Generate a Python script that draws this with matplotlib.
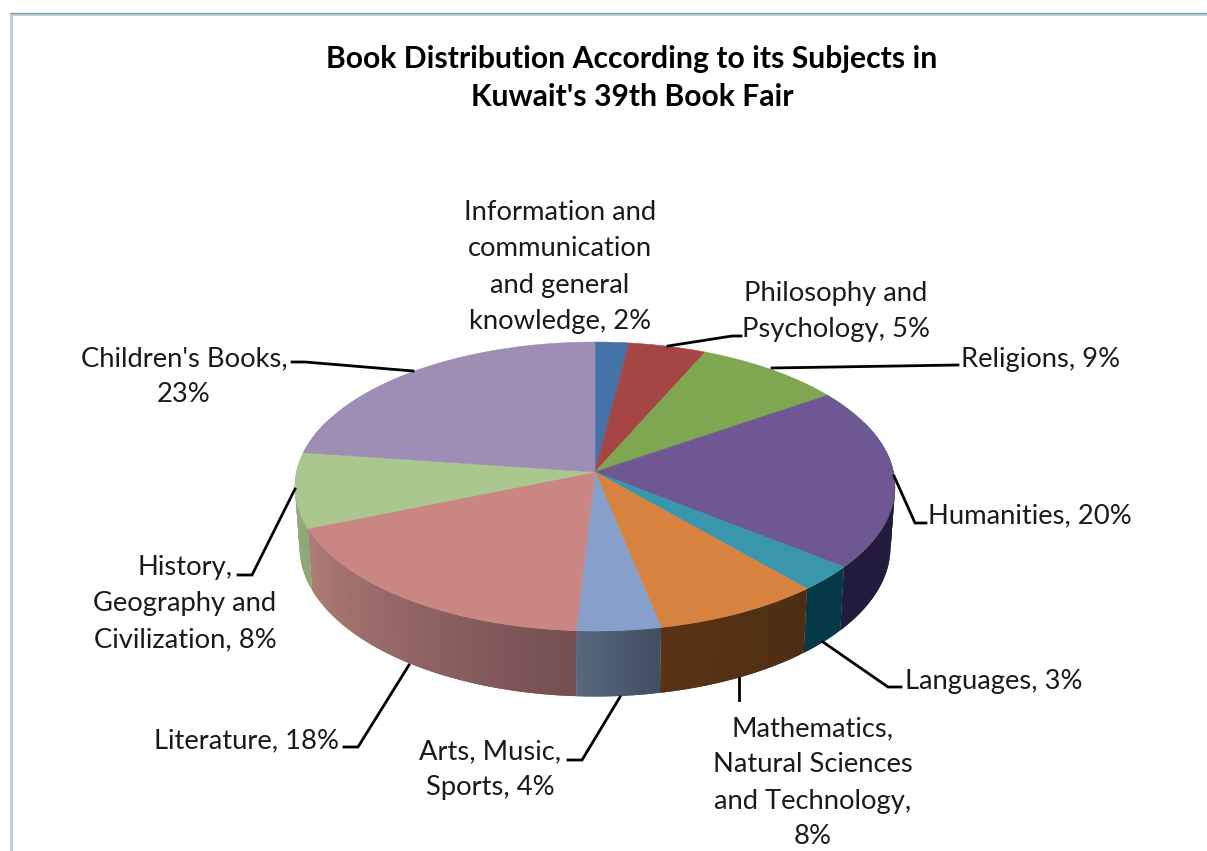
import numpy as np
import matplotlib
matplotlib.use("Agg")
import matplotlib.pyplot as plt

plt.rcParams['font.family'] = ['Lato', 'DejaVu Sans']

TITLE = "Book Distribution According to its Subjects in\nKuwait's 39th Book Fair"
subjects = ["Information and\ncommunication\nand general\nknowledge", "Philosophy and\nPsychology", "Religions",
            "Humanities", "Languages", "Mathematics,\nNatural Sciences\nand Technology",
            "Arts, Music,\nSports", "Literature", "History,\nGeography and\nCivilization", "Children's Books"]
shares = [2.0, 4.6, 8.8, 20.3, 2.9, 8.2, 4.1, 17.9, 8.4, 22.8]
label_seps = [", ", ", ", ", ", ", ", ", ", ",\n", ", ", ", ", ", ", ",\n"]
top_colors = ["#4572A7", "#A64644", "#7FA650", "#6E5792", "#3A96AD", "#D7823E", "#87A0CB", "#C98683", "#AAC78F", "#9E8DB5"]
side_from = ["#2F4F75", "#74302F", "#587338", "#231B3C", "#073A46", "#4D2E14", "#424F63", "#744E50", "#8DA676", "#6E6280"]
side_to = ["#2F4F75", "#74302F", "#587338", "#231B3C", "#073A46", "#5A3314", "#56677F", "#B07C78", "#96AE7E", "#6E6280"]
label_pos = [(560, 267), (836, 312), (1041, 360), (1030, 516), (994, 682),
             (813, 783), (490, 770), (246, 741), (185, 604), (184, 377)]
leaders = [None,
           [(668, 346), (732, 336), (741, 336)],
           [(772, 368), (958, 365)],
           [(894, 476), (915, 523), (926, 523)],
           [(823, 642), (888, 687), (901, 687)],
           [(739, 678), (739, 700)],
           [(620, 697), (582, 760), (568, 760)],
           [(409, 665), (358, 747), (344, 747)],
           [(295, 489), (252, 575), (238, 575)],
           [(413, 371), (305, 362), (292, 362)]]

# projection of the pie's disc
CX, CY, A, B, K = 595, 472, 298.5, 143, 0.1003
CX2, CY2, A2, B2 = 595, 532, 294, 148


def project(t, cx, cy, a, b):
    x, y = np.sin(t), np.cos(t)
    d = 1 + K * y
    return cx + a * x / d, cy - b * y / d


def rgb(h):
    return np.array(matplotlib.colors.to_rgb(h))


fig = plt.figure(figsize=(12.07, 8.51), dpi=100, facecolor="white")
ax = fig.add_axes([0, 0, 1, 1])
ax.set_xlim(0, 1207)
ax.set_ylim(851, 0)
ax.axis("off")

# frame
ax.fill([10, 1207, 1207, 13, 13, 10], [13, 13, 16, 16, 851, 851], color="#BCD1D9", lw=0, zorder=1)
ax.plot([10, 1207], [12.5, 12.5], color="#8E9A9E", lw=1.0, zorder=1.5)

edges = np.cumsum([0] + shares) / sum(shares) * 2 * np.pi

# side wall, drawn strip by strip with overlap so no seams appear
for i in range(len(shares)):
    n = max(int((edges[i + 1] - edges[i]) * 60), 2)
    ts = np.linspace(edges[i], edges[i + 1], n + 1)
    c0, c1 = rgb(side_from[i]), rgb(side_to[i])
    for j in range(n):
        if np.cos(ts[j]) > 0.35 and np.cos(ts[j + 1]) > 0.35:
            continue
        seg = np.linspace(ts[j], ts[min(j + 2, n)], 6)
        x1, y1 = project(seg, CX, CY, A, B)
        x2, y2 = project(seg, CX2, CY2, A2, B2)
        px = np.r_[x1, x2[::-1]]
        py = np.r_[y1, y2[::-1]]
        col = c0 + (c1 - c0) * (j / max(n - 1, 1))
        ax.fill(px, py, color=col, lw=0, zorder=2)

# top face
for i in range(len(shares)):
    ts = np.linspace(edges[i], edges[i + 1], 120)
    x, y = project(ts, CX, CY, A, B)
    ax.fill(np.r_[CX, x], np.r_[CY, y], facecolor=top_colors[i], edgecolor=top_colors[i], lw=0.4, zorder=3)

# labels
for i, name in enumerate(subjects):
    txt = f"{name}{label_seps[i]}{round(shares[i])}%"
    ax.text(*label_pos[i], txt, ha="center", va="center", fontsize=19.7, color="#1a1a1a",
            linespacing=1.55, zorder=5)
    if leaders[i]:
        lx, ly = zip(*leaders[i])
        ax.plot(lx, ly, color="black", lw=2.0, zorder=4, solid_joinstyle="miter")

ax.text(632, 78, TITLE, ha="center", va="center", fontsize=21.7, fontweight="bold", color="black",
        linespacing=1.47, zorder=5)

fig.savefig("out.png", dpi=100)
